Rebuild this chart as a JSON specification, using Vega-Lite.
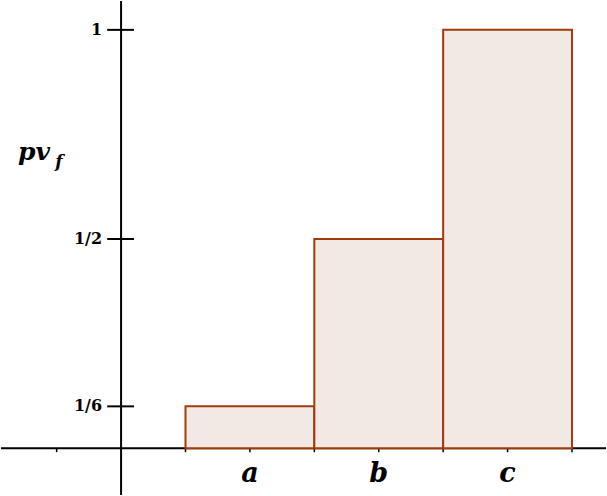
{
  "$schema": "https://vega.github.io/schema/vega-lite/v6.json",
  "width": 607,
  "height": 496,
  "autosize": {"type": "fit", "contains": "padding"},
  "padding": 0,
  "config": {"view": {"stroke": null}},
  "datasets": {
    "bars": [
      {"cat": "a", "start": 0.5, "end": 1.5, "center": 1, "value": 0.1},
      {"cat": "b", "start": 1.5, "end": 2.5, "center": 2, "value": 0.5},
      {"cat": "c", "start": 2.5, "end": 3.5, "center": 3, "value": 1}
    ],
    "yticks": [
      {"value": 0.1, "label": "1/6"},
      {"value": 0.5, "label": "1/2"},
      {"value": 1, "label": "1"}
    ],
    "xticks": [
      {"pos": -0.5}, {"pos": 0.5}, {"pos": 1}, {"pos": 1.5},
      {"pos": 2}, {"pos": 2.5}, {"pos": 3}, {"pos": 3.5}
    ],
    "one": [{"k": 1}]
  },
  "layer": [
    {
      "data": {"name": "one"},
      "mark": {"type": "rule", "color": "black", "strokeWidth": 2},
      "encoding": {
        "y": {"datum": 0, "type": "quantitative", "scale": {"domain": [-0.1119, 1.069], "nice": false, "zero": false}, "axis": null}
      }
    },
    {
      "data": {"name": "one"},
      "mark": {"type": "rule", "color": "black", "strokeWidth": 2},
      "encoding": {
        "x": {"datum": 0, "type": "quantitative", "scale": {"domain": [-0.932, 3.764], "nice": false, "zero": false}, "axis": null}
      }
    },
    {
      "data": {"name": "xticks"},
      "mark": {"type": "rule", "color": "black", "strokeWidth": 1.5},
      "encoding": {
        "x": {"field": "pos", "type": "quantitative", "scale": {"domain": [-0.932, 3.764], "nice": false, "zero": false}, "axis": null},
        "y": {"datum": 0, "type": "quantitative", "scale": {"domain": [-0.1119, 1.069], "nice": false, "zero": false}, "axis": null},
        "y2": {"datum": -0.0095}
      }
    },
    {
      "data": {"name": "yticks"},
      "mark": {"type": "rule", "color": "black", "strokeWidth": 2},
      "encoding": {
        "y": {"field": "value", "type": "quantitative", "scale": {"domain": [-0.1119, 1.069], "nice": false, "zero": false}, "axis": null},
        "x": {"datum": -0.108, "type": "quantitative", "scale": {"domain": [-0.932, 3.764], "nice": false, "zero": false}, "axis": null},
        "x2": {"datum": 0.1}
      }
    },
    {
      "data": {"name": "bars"},
      "mark": {"type": "rect", "fill": "#f3e9e4", "stroke": "#a33a0c", "strokeWidth": 2},
      "encoding": {
        "x": {"field": "start", "type": "quantitative", "scale": {"domain": [-0.932, 3.764], "nice": false, "zero": false}, "axis": null},
        "x2": {"field": "end"},
        "y": {"field": "value", "type": "quantitative", "scale": {"domain": [-0.1119, 1.069], "nice": false, "zero": false}, "axis": null},
        "y2": {"datum": 0}
      }
    },
    {
      "data": {"name": "yticks"},
      "mark": {"type": "text", "align": "right", "baseline": "middle", "dx": -19, "font": "DejaVu Serif", "fontWeight": "bold", "fontSize": 16, "color": "black"},
      "encoding": {
        "y": {"field": "value", "type": "quantitative", "scale": {"domain": [-0.1119, 1.069], "nice": false, "zero": false}, "axis": null},
        "x": {"datum": 0, "type": "quantitative", "scale": {"domain": [-0.932, 3.764], "nice": false, "zero": false}, "axis": null},
        "text": {"field": "label"}
      }
    },
    {
      "data": {"name": "bars"},
      "mark": {"type": "text", "align": "center", "baseline": "alphabetic", "font": "DejaVu Serif", "fontWeight": "bold", "fontStyle": "italic", "fontSize": 27, "color": "black"},
      "encoding": {
        "x": {"field": "center", "type": "quantitative", "scale": {"domain": [-0.932, 3.764], "nice": false, "zero": false}, "axis": null},
        "y": {"datum": -0.0805, "type": "quantitative", "scale": {"domain": [-0.1119, 1.069], "nice": false, "zero": false}, "axis": null},
        "text": {"field": "cat"}
      }
    },
    {
      "data": {"values": [{"t": "pv"}]},
      "mark": {"type": "text", "align": "left", "baseline": "alphabetic", "font": "DejaVu Serif", "fontWeight": "bold", "fontStyle": "italic", "fontSize": 25, "color": "black"},
      "encoding": {
        "x": {"datum": -0.8, "type": "quantitative", "scale": {"domain": [-0.932, 3.764], "nice": false, "zero": false}, "axis": null},
        "y": {"datum": 0.688, "type": "quantitative", "scale": {"domain": [-0.1119, 1.069], "nice": false, "zero": false}, "axis": null},
        "text": {"field": "t"}
      }
    },
    {
      "data": {"values": [{"t": "f"}]},
      "mark": {"type": "text", "align": "left", "baseline": "alphabetic", "font": "DejaVu Serif", "fontWeight": "bold", "fontStyle": "italic", "fontSize": 17, "color": "black"},
      "encoding": {
        "x": {"datum": -0.51, "type": "quantitative", "scale": {"domain": [-0.932, 3.764], "nice": false, "zero": false}, "axis": null},
        "y": {"datum": 0.671, "type": "quantitative", "scale": {"domain": [-0.1119, 1.069], "nice": false, "zero": false}, "axis": null},
        "text": {"field": "t"}
      }
    }
  ]
}
